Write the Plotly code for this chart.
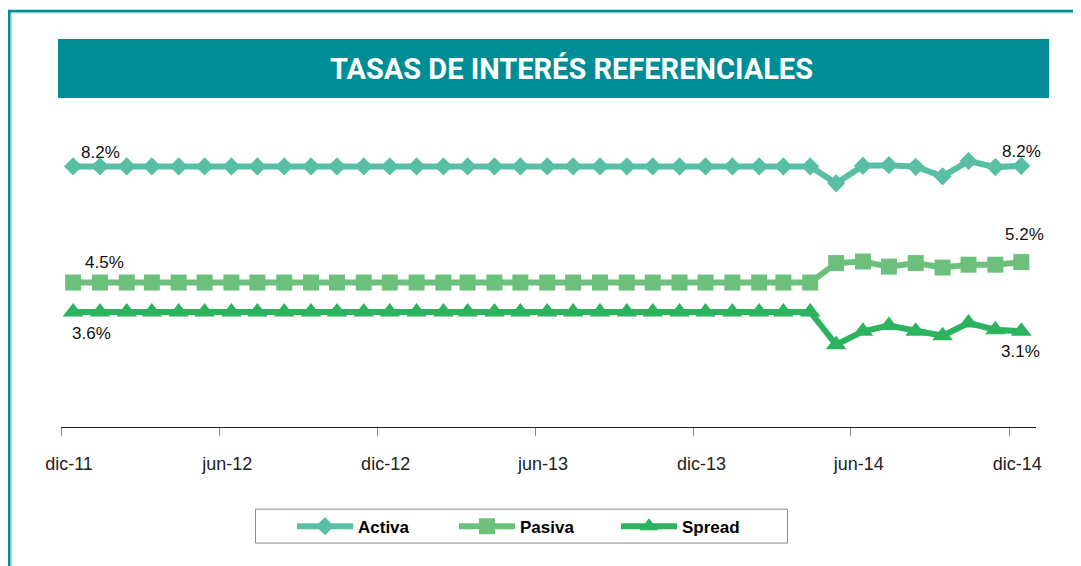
import pandas as pd
import plotly.graph_objects as go

# ---------------- data ----------------
months = list(pd.date_range("2011-12-01", "2014-12-01", freq="MS") + pd.Timedelta(days=14))

activa = [8.17, 8.17, 8.17, 8.17, 8.17, 8.17, 8.17, 8.17, 8.17, 8.17,
          8.17, 8.17, 8.17, 8.17, 8.17, 8.17, 8.17, 8.17, 8.17, 8.17,
          8.17, 8.17, 8.17, 8.17, 8.17, 8.17, 8.17, 8.17, 8.17,
          7.64, 8.19, 8.21, 8.16, 7.86, 8.34, 8.15, 8.19]
pasiva = [4.53, 4.53, 4.53, 4.53, 4.53, 4.53, 4.53, 4.53, 4.53, 4.53,
          4.53, 4.53, 4.53, 4.53, 4.53, 4.53, 4.53, 4.53, 4.53, 4.53,
          4.53, 4.53, 4.53, 4.53, 4.53, 4.53, 4.53, 4.53, 4.53,
          5.14, 5.19, 5.03, 5.14, 5.00, 5.09, 5.09, 5.17]
spread = [3.61, 3.61, 3.61, 3.61, 3.61, 3.61, 3.61, 3.61, 3.61, 3.61,
          3.61, 3.61, 3.61, 3.61, 3.61, 3.61, 3.61, 3.61, 3.61, 3.61,
          3.61, 3.61, 3.61, 3.61, 3.61, 3.61, 3.61, 3.61, 3.61,
          2.58, 3.00, 3.18, 3.00, 2.86, 3.26, 3.05, 3.00]

activa_labels = ["8.2%", "8.2%"]
pasiva_labels = ["4.5%", "5.2%"]
spread_labels = ["3.6%", "3.1%"]

tick_dates = ["2011-12-01", "2012-06-01", "2012-12-01", "2013-06-01",
              "2013-12-01", "2014-06-01", "2014-12-01"]
tick_text = ["dic-11", "jun-12", "dic-12", "jun-13", "dic-13", "jun-14", "dic-14"]

title_text = "TASAS DE INTERÉS REFERENCIALES"

# ---------------- layout geometry ----------------
# the page body adds an 8px margin, so figure coords = screen coords - 8
OFF = 8
W, H = 1081, 566
L = 61 - OFF
T = 140 - OFF
PW = 1036 - 61
PH = 427.3 - 140
R = W - L - PW
B = H - T - PH

def px_x(sx):
    return (sx - OFF - L) / PW

def px_y(sy):
    return (T + PH - (sy - OFF)) / PH

TEAL = "#008C95"
C_ACT = "#58BFA4"
C_PAS = "#6CC07C"
C_SPR = "#2BB35E"

fig = go.Figure()
fig.add_trace(go.Scatter(x=months, y=activa, name="Activa", mode="lines+markers",
                         line=dict(color=C_ACT, width=6),
                         marker=dict(symbol="diamond", size=14, color=C_ACT, line=dict(width=0))))
fig.add_trace(go.Scatter(x=months, y=pasiva, name="Pasiva", mode="lines+markers",
                         line=dict(color=C_PAS, width=6),
                         marker=dict(symbol="square", size=16, color=C_PAS, line=dict(width=0))))
fig.add_trace(go.Scatter(x=months, y=spread, name="Spread", mode="lines+markers",
                         line=dict(color=C_SPR, width=6),
                         marker=dict(symbol="triangle-up", size=18, color=C_SPR, line=dict(width=0))))

# data labels (first and last points)
lab_font = dict(family="Liberation Sans, Arial, sans-serif", size=17, color="#111111")
label_specs = [
    (activa, activa_labels, (27, 14), (0, 14)),
    (pasiva, pasiva_labels, (31, 20), (3, 28)),
    (spread, spread_labels, (18, -22), (-1, -20)),
]
for vals, labs, s0, s1 in label_specs:
    for idx, lab, (dx, dy) in ((0, labs[0], s0), (len(vals) - 1, labs[1], s1)):
        fig.add_annotation(x=months[idx], y=vals[idx], text=lab, showarrow=False,
                           xanchor="center", yanchor="middle", xshift=dx, yshift=dy,
                           font=lab_font)

# title band + text
fig.add_shape(type="rect", xref="paper", yref="paper",
              x0=px_x(58), x1=px_x(1049), y0=px_y(98), y1=px_y(39),
              fillcolor=TEAL, line=dict(width=0), layer="below")
fig.add_annotation(xref="paper", yref="paper", x=px_x(571), y=px_y(69),
                   text=title_text, showarrow=False, xanchor="center", yanchor="middle",
                   font=dict(family="Roboto, Liberation Sans, sans-serif",
                             size=29, color="white", weight="bold"))

# outer frame
fig.add_shape(type="rect", xref="paper", yref="paper",
              x0=px_x(9.3), x1=px_x(1100), y0=px_y(590), y1=px_y(11),
              line=dict(color=TEAL, width=2.6), fillcolor="rgba(0,0,0,0)")
fig.add_shape(type="rect", xref="paper", yref="paper",
              x0=px_x(11.2), x1=px_x(1100), y0=px_y(590), y1=px_y(12.8),
              line=dict(color="#9BD3D6", width=1), fillcolor="rgba(0,0,0,0)")

# legend box
fig.add_shape(type="rect", xref="paper", yref="paper",
              x0=px_x(255.5), x1=px_x(787.5), y0=px_y(543.5), y1=px_y(509.5),
              line=dict(color="#8C8C8C", width=1), fillcolor="white")

fig.update_layout(
    width=W, height=H,
    margin=dict(l=L, r=R, t=T, b=B),
    paper_bgcolor="white", plot_bgcolor="white",
    showlegend=True,
    legend=dict(orientation="h", x=px_x(292), y=px_y(527), xanchor="left", yanchor="middle",
                bgcolor="rgba(0,0,0,0)", borderwidth=0,
                font=dict(family="Liberation Sans, Arial, sans-serif", size=17, color="black", weight="bold"),
                itemwidth=56, entrywidth=91, entrywidthmode="pixels", traceorder="normal"),
    xaxis=dict(type="date", range=["2011-12-01", "2015-01-01"],
               tickmode="array", tickvals=tick_dates, ticktext=tick_text,
               showgrid=False, zeroline=False, showline=True, linecolor="#222222", linewidth=1.3,
               ticks="outside", ticklen=8, tickcolor="#888888", tickwidth=1,
               ticklabelstandoff=12, ticklabelshift=8,
               tickfont=dict(family="Liberation Sans, Arial, sans-serif", size=18, color="#222222")),
    yaxis=dict(range=[0, 9], visible=False, showgrid=False, zeroline=False),
)

fig.write_html("out.html")
